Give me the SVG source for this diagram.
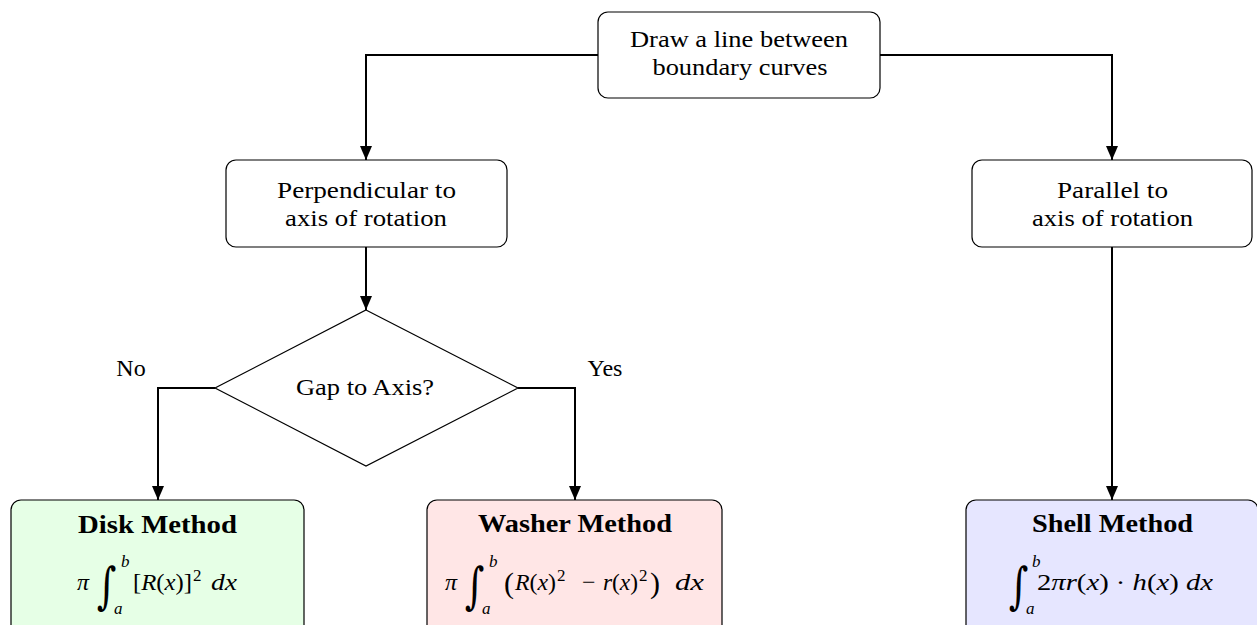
<svg xmlns="http://www.w3.org/2000/svg" width="1257" height="625" viewBox="0 0 1257 625">
<style>
.box{stroke:#000;stroke-width:1.2;}
.t{font-family:"Liberation Serif","Times New Roman",serif;font-size:24px;fill:#000;text-anchor:middle;}
.b{font-weight:bold;font-size:25px;}
.m{font-family:"Liberation Serif","Times New Roman",serif;font-size:24px;fill:#000;}
.i{font-style:italic;}
.s{font-size:17px;}
.int{font-family:"DejaVu Serif",serif;font-size:50px;}
.c{fill:none;stroke:#000;stroke-width:2;}
</style>
<defs>
<marker id="ah" markerUnits="userSpaceOnUse" markerWidth="14" markerHeight="14" viewBox="0 0 14 12" refX="14" refY="6" orient="auto">
<path d="M0,0 L14,6 L0,12 z" fill="#000"/>
</marker>
</defs>
<rect width="1257" height="625" fill="#fff"/>
<g id="connectors">
<path class="c" d="M598,55 H366 V160" marker-end="url(#ah)"/>
<path class="c" d="M880,55 H1112 V160" marker-end="url(#ah)"/>
<path class="c" d="M366,247 V310" marker-end="url(#ah)"/>
<path class="c" d="M215,388 H158 V500" marker-end="url(#ah)"/>
<path class="c" d="M518,388 H575 V500" marker-end="url(#ah)"/>
<path class="c" d="M1112,247 V500" marker-end="url(#ah)"/>
<text class="t" x="131" y="376">No</text>
<text class="t" x="605" y="376">Yes</text>
</g>
<g id="start">
<rect class="box" x="598" y="12" width="282" height="86" rx="10" fill="#fff"/>
<text class="t" x="739" y="47" textLength="218" lengthAdjust="spacingAndGlyphs">Draw a line between</text>
<text class="t" x="740" y="75" textLength="175" lengthAdjust="spacingAndGlyphs">boundary curves</text>
</g>
<g id="perpendicular">
<rect class="box" x="226" y="160" width="281" height="87" rx="10" fill="#fff"/>
<text class="t" x="366.5" y="198" textLength="179" lengthAdjust="spacingAndGlyphs">Perpendicular to</text>
<text class="t" x="366" y="226" textLength="162" lengthAdjust="spacingAndGlyphs">axis of rotation</text>
</g>
<g id="parallel">
<rect class="box" x="972" y="160" width="280" height="87" rx="10" fill="#fff"/>
<text class="t" x="1112.5" y="198" textLength="111" lengthAdjust="spacingAndGlyphs">Parallel to</text>
<text class="t" x="1112.5" y="226" textLength="161" lengthAdjust="spacingAndGlyphs">axis of rotation</text>
</g>
<g id="gap">
<polygon class="box" points="366,310 518,388 366,466 215,388" fill="#fff"/>
<text class="t" x="365" y="395" textLength="138" lengthAdjust="spacingAndGlyphs">Gap to Axis?</text>
</g>
<g id="disk">
<rect class="box" x="11" y="500" width="293" height="140" rx="10" fill="#e6ffe6"/>
<text class="t b" x="157.5" y="533" textLength="159" lengthAdjust="spacingAndGlyphs">Disk Method</text>
<text class="m i" x="77" y="590">π</text>
<text class="m int" transform="translate(97,603) scale(0.75,1)">∫</text>
<text class="m i s" x="121" y="567">b</text>
<text class="m i s" x="114" y="614">a</text>
<text class="m" x="133" y="590" textLength="59" lengthAdjust="spacingAndGlyphs">[<tspan class="i">R</tspan>(<tspan class="i">x</tspan>)]</text>
<text class="m s" x="193" y="581">2</text>
<text class="m i" x="211" y="590" textLength="26" lengthAdjust="spacingAndGlyphs">dx</text>
</g>
<g id="washer">
<rect class="box" x="427" y="500" width="295" height="140" rx="10" fill="#ffe6e6"/>
<text class="t b" x="575" y="532" textLength="194" lengthAdjust="spacingAndGlyphs">Washer Method</text>
<text class="m i" x="445" y="590">π</text>
<text class="m int" transform="translate(465,603) scale(0.75,1)">∫</text>
<text class="m i s" x="489" y="567">b</text>
<text class="m i s" x="482" y="614">a</text>
<text class="m" x="504" y="593" style="font-size:30px">(</text>
<text class="m" x="515" y="590" textLength="41" lengthAdjust="spacingAndGlyphs"><tspan class="i">R</tspan>(<tspan class="i">x</tspan>)</text>
<text class="m s" x="557" y="581">2</text>
<text class="m" x="582" y="590">−</text>
<text class="m" x="603" y="590" textLength="35" lengthAdjust="spacingAndGlyphs"><tspan class="i">r</tspan>(<tspan class="i">x</tspan>)</text>
<text class="m s" x="639" y="581">2</text>
<text class="m" x="650" y="593" style="font-size:30px">)</text>
<text class="m i" x="675" y="590" textLength="29" lengthAdjust="spacingAndGlyphs">dx</text>
</g>
<g id="shell">
<rect class="box" x="966" y="500" width="292" height="140" rx="10" fill="#e6e6ff"/>
<text class="t b" x="1112.5" y="532" textLength="161" lengthAdjust="spacingAndGlyphs">Shell Method</text>
<text class="m int" transform="translate(1009,603) scale(0.75,1)">∫</text>
<text class="m i s" x="1032" y="567">b</text>
<text class="m i s" x="1026" y="614">a</text>
<text class="m" x="1037" y="590" textLength="176" lengthAdjust="spacingAndGlyphs">2<tspan class="i">πr</tspan>(<tspan class="i">x</tspan>) · <tspan class="i">h</tspan>(<tspan class="i">x</tspan>) <tspan class="i">dx</tspan></text>
</g>
</svg>
